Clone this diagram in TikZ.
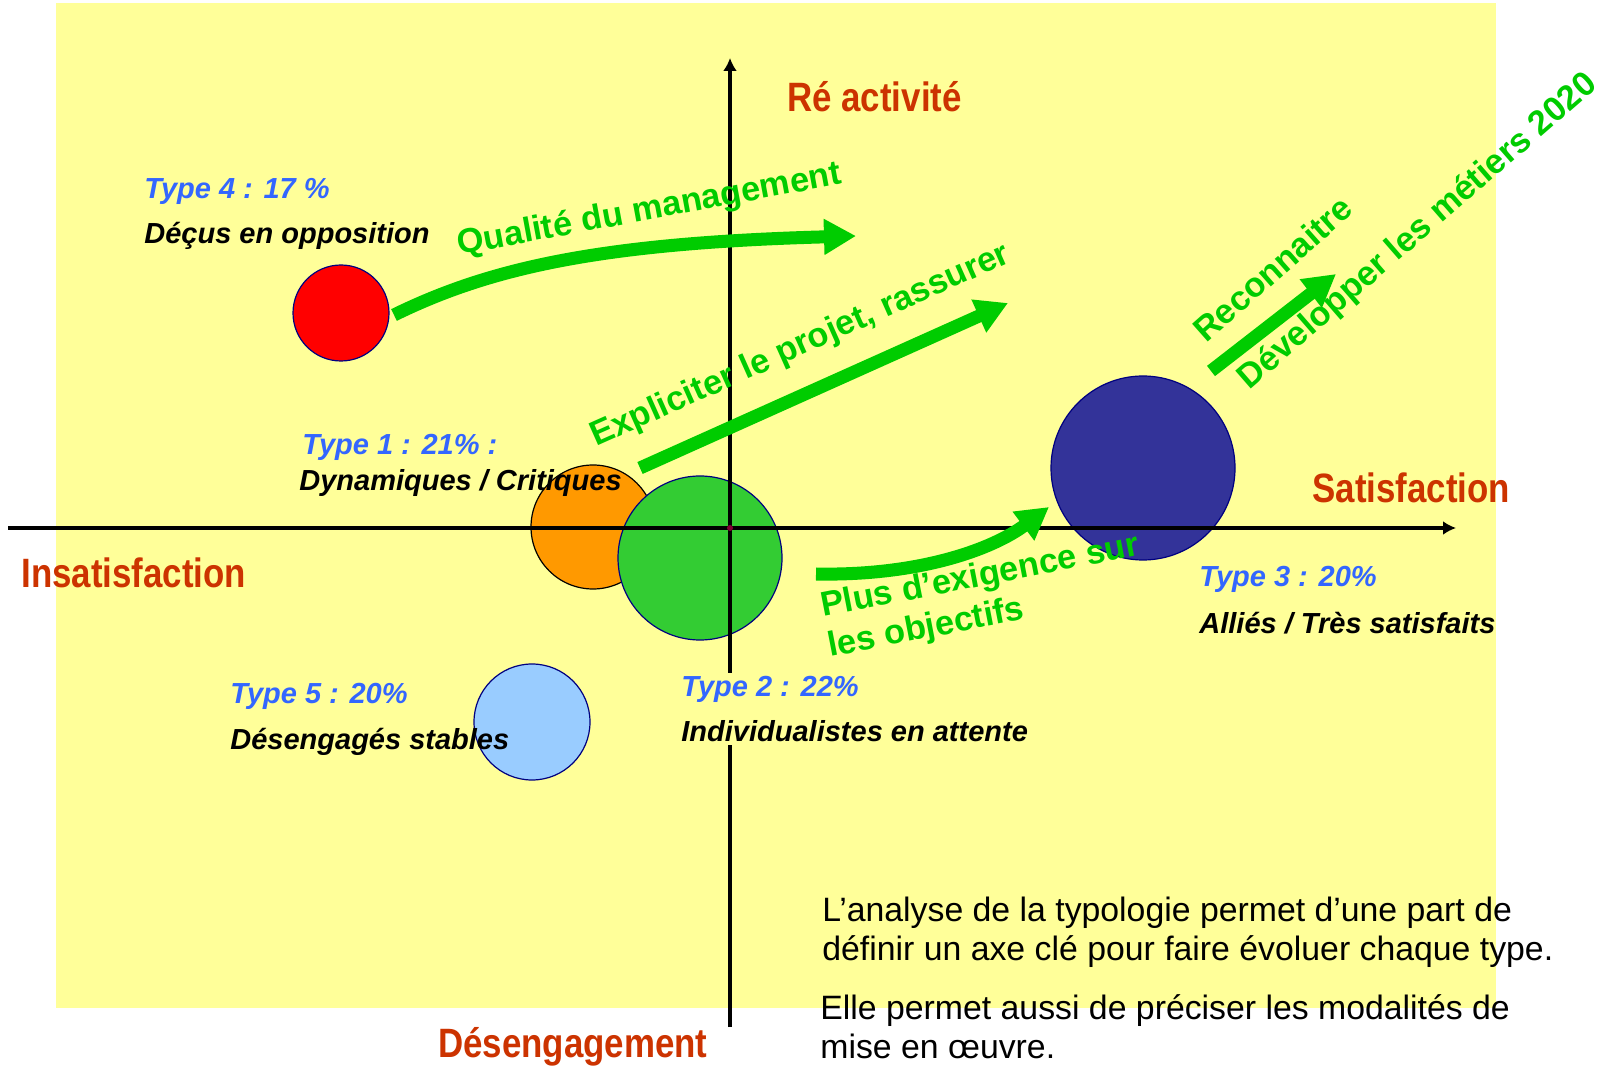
\documentclass[tikz,border=0pt]{standalone}
\usepackage{fontspec}
\setmainfont{Liberation Sans}
\newfontfamily\narrowfont[FakeStretch=0.85]{Liberation Sans}
\usepackage{tikz}
\usetikzlibrary{
    arrows.meta,
    positioning,
}
\definecolor{paleYellow}{HTML}{FFFF99}
\definecolor{axisRed}{HTML}{CC3300}
\definecolor{typeBlue}{HTML}{3366FF}
\definecolor{actionGreen}{HTML}{00CC00}
\definecolor{bubbleNavy}{HTML}{000080}
\definecolor{redBubble}{HTML}{FF0000}
\definecolor{orangeBubble}{HTML}{FF9900}
\definecolor{greenBubble}{HTML}{33CC33}
\definecolor{skyBubble}{HTML}{99CCFF}
\definecolor{navyBubble}{HTML}{333399}
\definecolor{originDot}{HTML}{800033}

\begin{document}
\begin{tikzpicture}[x=0.5pt,y=-0.5pt]

    \tikzstyle{commonText}=[inner sep=0pt, anchor=base west]
    \tikzstyle{axisLabel}=[commonText, text=axisRed, font=\narrowfont\bfseries\fontsize{20.5}{24}\selectfont]
    \tikzstyle{typeLabel}=[commonText, text=typeBlue, font=\bfseries\itshape\fontsize{14.5}{17}\selectfont]
    \tikzstyle{typeName}=[typeLabel, text=black]
    \tikzstyle{actionText}=[commonText, text=actionGreen, font=\bfseries\fontsize{17.2}{20}\selectfont]
    \tikzstyle{paraText}=[commonText, text=black, font=\fontsize{16.9}{20}\selectfont]
    \tikzstyle{bubble}=[circle, draw=bubbleNavy, line width=0.6pt, inner sep=0pt]
    \tikzstyle{axis}=[line width=1.8pt, -{Latex[length=6.5pt,width=7pt]}]
    \tikzstyle{action}=[draw=actionGreen, line width=6.5pt, -{Triangle[length=16pt,width=17pt]}]

    \useasboundingbox (0,0) rectangle (1605,1068);

    % Background
    \fill[paleYellow] (56,3) rectangle (1496,1008);

    % Bubbles
    \node at (341,313) [bubble, fill=redBubble, minimum size=48pt] (red) {};
    \node at (593,527) [bubble, draw=black, fill=orangeBubble, minimum size=62pt] (orange) {};
    \node at (700,558) [bubble, fill=greenBubble, minimum size=82pt] (green) {};
    \node at (532,722) [bubble, fill=skyBubble, minimum size=58pt] (sky) {};
    \node at (1143,468) [bubble, fill=navyBubble, minimum size=92pt] (navy) {};

    % Axes
    \coordinate (xStart) at (8,528);
    \coordinate (xEnd) at (1456,528);
    \coordinate (yStart) at (730,1027);
    \coordinate (yEnd) at (730,58);
    \draw[axis] (xStart) -- (xEnd);
    \draw[axis] (yStart) -- (yEnd);
    \fill[originDot] (730,528) circle (3);

    % Axis labels
    \node at (787,112) [axisLabel] (reac) {Ré activité};
    \node at (1312,503) [axisLabel] (sat) {Satisfaction};
    \node at (21,588) [axisLabel] (insat) {Insatisfaction};
    \node at (438,1057) [axisLabel] (deseng) {Désengagement};

    % Types
    \node at (144,199) [typeLabel] (T4) {Type 4 : 17 \%};
    \node at (144,244) [typeName] (T4name) {Déçus en opposition};
    \node at (302,455) [typeLabel] (T1) {Type 1 : 21\% :};
    \node at (299,491) [typeName] (T1name) {Dynamiques / Critiques};
    \node at (230,704) [typeLabel] (T5) {Type 5 : 20\%};
    \node at (230,749) [typeName] (T5name) {Désengagés stables};
    \node at (681,673) [typeLabel, anchor=north west, align=left, inner ysep=1.5pt, fill=paleYellow,
        font=\bfseries\itshape\fontsize{14.5}{22.5}\selectfont] (T2)
        {Type 2 : 22\%\\\textcolor{black}{Individualistes en attente}};
    \node at (1199,587) [typeLabel] (T3) {Type 3 : 20\%};
    \node at (1199,633) [typeName] (T3name) {Alliés / Très satisfaits};

    % Actions
    \node at (459,255) [actionText, rotate=10.5] (qualTxt) {Qualité du management};
    \node at (596,447) [actionText, rotate=24] (explTxt) {Expliciter le projet, rassurer};
    \node at (1206,344) [actionText, rotate=41.5] (recoTxt) {Reconnaitre};
    \node at (1249,391) [actionText, rotate=41] (devTxt) {Développer les métiers 2020};
    \node at (823,617) [actionText, rotate=11] (plusTxt) {Plus d’exigence sur};
    \node at (830,657) [actionText, rotate=11] (objTxt) {les objectifs};

    \coordinate (qualStart) at (394,315);
    \coordinate (qualEnd) at (856,236);
    \coordinate (explStart) at (640,468);
    \coordinate (explEnd) at (1008,303);
    \coordinate (recoStart) at (1211,371);
    \coordinate (recoEnd) at (1336,274);
    \coordinate (plusStart) at (816,574);
    \coordinate (plusEnd) at (1049,507);
    \draw[action] (qualStart) .. controls (490,268) and (600,243) .. (qualEnd);
    \draw[action] (explStart) -- (explEnd);
    \draw[action] (recoStart) -- (recoEnd);
    \draw[action] (plusStart) .. controls (920,576) and (993,549) .. (plusEnd);

    % Comment
    \node at (822,921) [paraText] (para1) {L’analyse de la typologie permet d’une part de};
    \node at (822,960) [paraText] (para2) {définir un axe clé pour faire évoluer chaque type.};
    \node at (820,1019) [paraText] (para3) {Elle permet aussi de préciser les modalités de};
    \node at (820,1058) [paraText] (para4) {mise en œuvre.};
\end{tikzpicture}
\end{document}
